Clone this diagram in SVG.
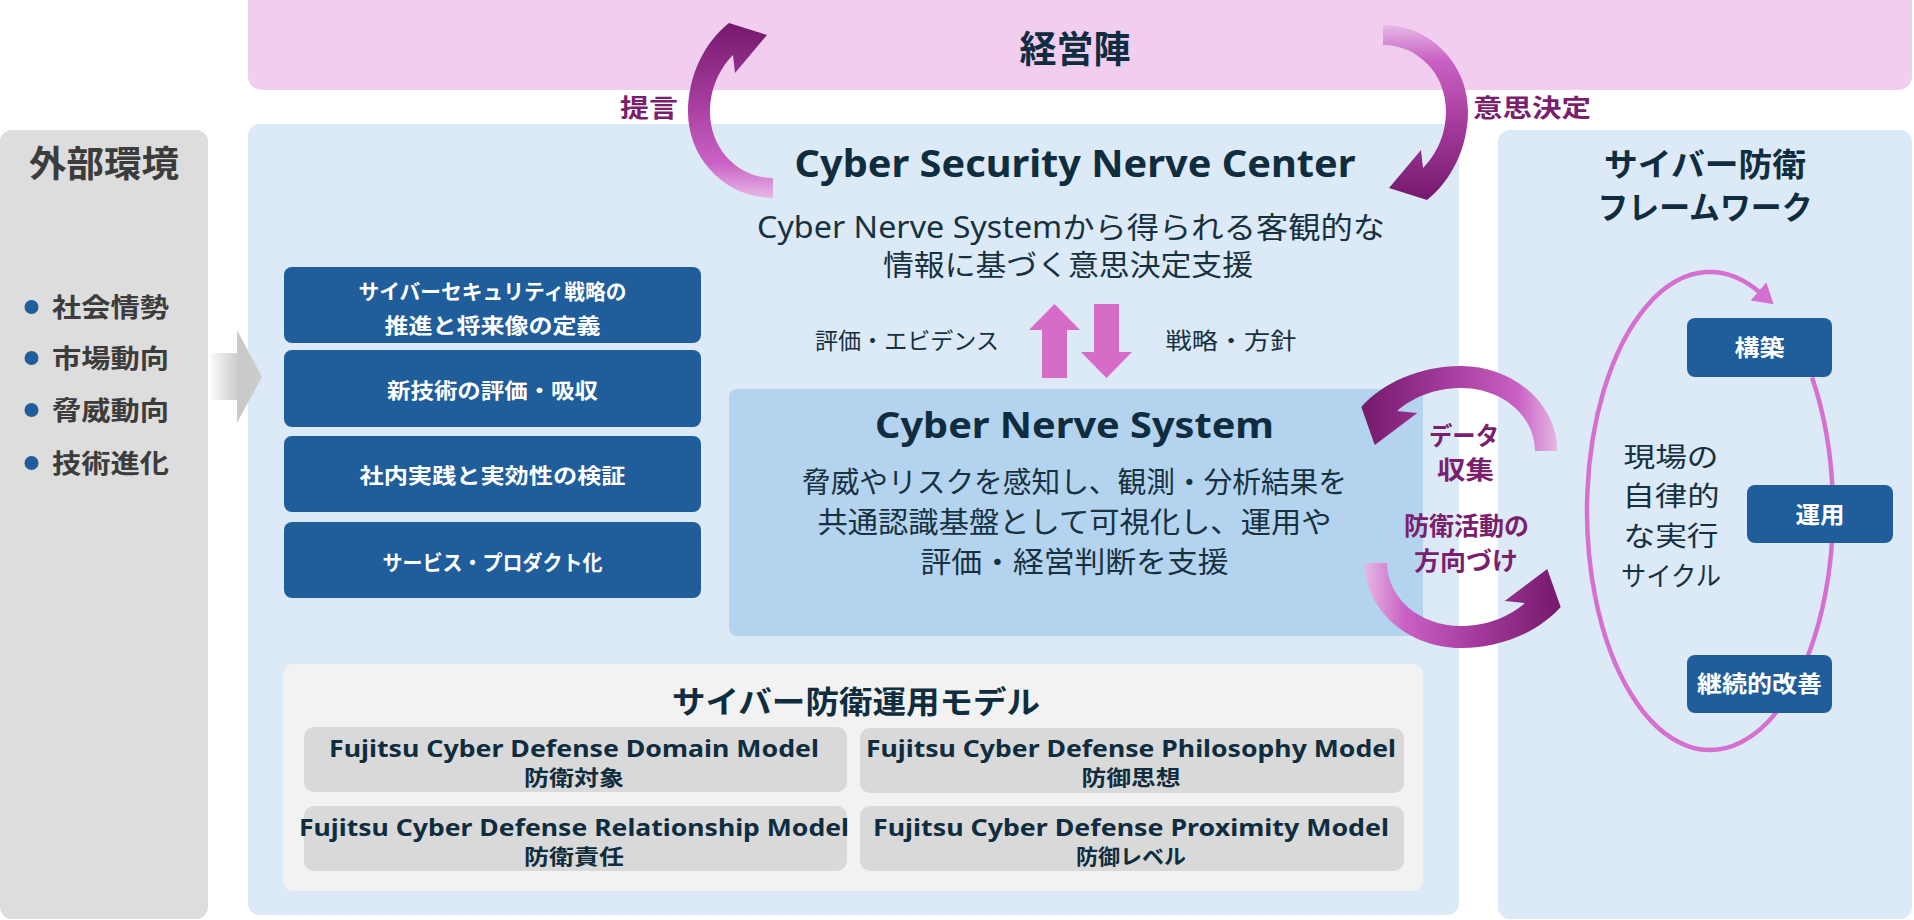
<svg xmlns="http://www.w3.org/2000/svg" width="1914" height="920" viewBox="0 0 1914 920">
<defs>
<style>
text{text-anchor:middle}
.st{text-anchor:start}
.en{font-family:"Noto Sans","Noto Sans CJK JP",sans-serif}
.jp{font-family:"Noto Sans CJK JP","Noto Sans",sans-serif}
.b{font-weight:700}
.navy{fill:#0f2d3e}
.dk{fill:#17313f}
.pur{fill:#7a1f6e}
.wh{fill:#ffffff}
.gr{fill:#3c3c3c}
.bluebox{fill:#1f5e9b}
.model{fill:#d9d9d9}
.panel{fill:#dce9f6}
.pinkarrow{fill:#d66bc8}
</style>
<linearGradient id="arcGrad" gradientUnits="userSpaceOnUse" x1="0" y1="-89" x2="0" y2="86">
<stop offset="0" stop-color="#74196c"/>
<stop offset="0.45" stop-color="#a63c9e"/>
<stop offset="0.8" stop-color="#c962c4"/>
<stop offset="1" stop-color="#e6b8e6"/>
</linearGradient>
<linearGradient id="chevGrad" x1="0" y1="0" x2="1" y2="0">
<stop offset="0" stop-color="#fafafa"/>
<stop offset="0.55" stop-color="#c9c9c9"/>
<stop offset="1" stop-color="#cdcdcd"/>
</linearGradient>
<path id="arcA" d="M -2,86 C -49,86 -87,47 -87,0 C -87,-37 -70,-70 -46,-89 L -8,-77 L -40,-39 L -42,-57 C -55,-44 -65,-24 -65,0 C -65,37 -37,66 -2,66 Z" fill="url(#arcGrad)"/>
<marker id="cycHead" markerUnits="userSpaceOnUse" viewBox="0 0 20 24" refX="2" refY="12" markerWidth="20" markerHeight="24" orient="auto"><path d="M0,0 L20,12 L0,24 Z" fill="#d670d0"/></marker>
</defs>
<rect width="1914" height="920" fill="#ffffff"/>

<g id="management">
<rect x="248" y="-14" width="1664" height="104" rx="14" fill="#f1cef0"/>
<text class="jp b navy" x="1075" y="63" font-size="37">経営陣</text>
</g>

<g id="external">
<rect x="0" y="130" width="208" height="789" rx="12" fill="#dddddd"/>
<text class="jp b gr" x="104" y="177" font-size="36" textLength="150" lengthAdjust="spacingAndGlyphs">外部環境</text>
<circle cx="31.5" cy="307" r="7" fill="#1f5e9b"/>
<circle cx="31.5" cy="358" r="7" fill="#1f5e9b"/>
<circle cx="31.5" cy="410" r="7" fill="#1f5e9b"/>
<circle cx="31.5" cy="463" r="7" fill="#1f5e9b"/>
<text class="jp b gr st" x="52" y="317" font-size="26" textLength="117" lengthAdjust="spacingAndGlyphs">社会情勢</text>
<text class="jp b gr st" x="52" y="368" font-size="26" textLength="117" lengthAdjust="spacingAndGlyphs">市場動向</text>
<text class="jp b gr st" x="52" y="420" font-size="26" textLength="117" lengthAdjust="spacingAndGlyphs">脅威動向</text>
<text class="jp b gr st" x="52" y="473" font-size="26" textLength="117" lengthAdjust="spacingAndGlyphs">技術進化</text>
</g>

<g id="csnc">
<rect x="248" y="124" width="1211" height="791" rx="12" class="panel"/>
<text class="en b navy" x="1075" y="177" font-size="37" textLength="561" lengthAdjust="spacingAndGlyphs">Cyber Security Nerve Center</text>
<text class="en dk" x="1071" y="238" font-size="30" textLength="628" lengthAdjust="spacingAndGlyphs">Cyber Nerve Systemから得られる客観的な</text>
<text class="jp dk" x="1068" y="276" font-size="29" textLength="370" lengthAdjust="spacingAndGlyphs">情報に基づく意思決定支援</text>
<text class="jp dk" x="907" y="349" font-size="23" textLength="184" lengthAdjust="spacingAndGlyphs">評価・エビデンス</text>
<text class="jp dk" x="1231" y="349" font-size="23" textLength="131" lengthAdjust="spacingAndGlyphs">戦略・方針</text>
<polygon class="pinkarrow" points="1054.5,304 1080,330 1067,330 1067,378 1042,378 1042,330 1029,330"/>
<polygon class="pinkarrow" points="1094,304 1119,304 1119,352 1132,352 1106.5,378 1081,352 1094,352"/>
</g>

<g id="input-arrow">
<polygon points="211,353 237,353 237,330 262,377 237,423 237,400 211,400" fill="url(#chevGrad)"/>
</g>

<g id="strategy">
<rect x="284" y="267" width="417" height="76" rx="8" class="bluebox"/>
<rect x="284" y="350" width="417" height="77" rx="8" class="bluebox"/>
<rect x="284" y="436" width="417" height="76" rx="8" class="bluebox"/>
<rect x="284" y="522" width="417" height="76" rx="8" class="bluebox"/>
<text class="jp b wh" x="492.5" y="299" font-size="21" textLength="268" lengthAdjust="spacingAndGlyphs">サイバーセキュリティ戦略の</text>
<text class="jp b wh" x="492.5" y="333" font-size="21" textLength="216" lengthAdjust="spacingAndGlyphs">推進と将来像の定義</text>
<text class="jp b wh" x="492.5" y="398" font-size="21" textLength="211" lengthAdjust="spacingAndGlyphs">新技術の評価・吸収</text>
<text class="jp b wh" x="492.5" y="483" font-size="21" textLength="266" lengthAdjust="spacingAndGlyphs">社内実践と実効性の検証</text>
<text class="jp b wh" x="492.5" y="570" font-size="21" textLength="220" lengthAdjust="spacingAndGlyphs">サービス・プロダクト化</text>
</g>

<g id="cns">
<rect x="729" y="389" width="694" height="247" rx="8" fill="#b4d3ef"/>
<text class="en b navy" x="1074.5" y="438" font-size="35" textLength="399" lengthAdjust="spacingAndGlyphs">Cyber Nerve System</text>
<text class="jp dk" x="1074.5" y="493" font-size="29" textLength="545" lengthAdjust="spacingAndGlyphs">脅威やリスクを感知し、観測・分析結果を</text>
<text class="jp dk" x="1074.5" y="533" font-size="29" textLength="514" lengthAdjust="spacingAndGlyphs">共通認識基盤として可視化し、運用や</text>
<text class="jp dk" x="1074.5" y="573" font-size="29" textLength="308" lengthAdjust="spacingAndGlyphs">評価・経営判断を支援</text>
</g>

<g id="model">
<rect x="283" y="664" width="1140" height="227" rx="10" fill="#f2f2f2"/>
<text class="jp b navy" x="856" y="713" font-size="31" textLength="368" lengthAdjust="spacingAndGlyphs">サイバー防衛運用モデル</text>
<rect x="304" y="727" width="543" height="65" rx="10" class="model"/>
<rect x="860" y="728" width="544" height="65" rx="10" class="model"/>
<rect x="304" y="806" width="543" height="65" rx="10" class="model"/>
<rect x="860" y="806" width="544" height="65" rx="10" class="model"/>
<text class="en b navy" x="574" y="757" font-size="24" textLength="490" lengthAdjust="spacingAndGlyphs">Fujitsu Cyber Defense Domain Model</text>
<text class="jp b navy" x="574" y="785" font-size="21" textLength="100" lengthAdjust="spacingAndGlyphs">防衛対象</text>
<text class="en b navy" x="1131" y="757" font-size="24" textLength="530" lengthAdjust="spacingAndGlyphs">Fujitsu Cyber Defense Philosophy Model</text>
<text class="jp b navy" x="1131" y="785" font-size="21" textLength="99" lengthAdjust="spacingAndGlyphs">防御思想</text>
<text class="en b navy" x="574" y="836" font-size="24" textLength="550" lengthAdjust="spacingAndGlyphs">Fujitsu Cyber Defense Relationship Model</text>
<text class="jp b navy" x="574" y="864" font-size="21" textLength="100" lengthAdjust="spacingAndGlyphs">防衛責任</text>
<text class="en b navy" x="1131" y="836" font-size="24" textLength="516" lengthAdjust="spacingAndGlyphs">Fujitsu Cyber Defense Proximity Model</text>
<text class="jp b navy" x="1131" y="864" font-size="21" textLength="110" lengthAdjust="spacingAndGlyphs">防御レベル</text>
</g>

<g id="framework">
<rect x="1498" y="130" width="414" height="789" rx="12" class="panel"/>
<text class="jp b navy" x="1705" y="176" font-size="32" textLength="202" lengthAdjust="spacingAndGlyphs">サイバー防衛</text>
<text class="jp b navy" x="1705" y="219" font-size="32" textLength="215" lengthAdjust="spacingAndGlyphs">フレームワーク</text>
<path d="M 1812,377.4 A 123 239 0 1 1 1760,292.6" fill="none" stroke="#d670d0" stroke-width="4.5" marker-end="url(#cycHead)"/>
<text class="jp dk" x="1671" y="467" font-size="27" textLength="95" lengthAdjust="spacingAndGlyphs">現場の</text>
<text class="jp dk" x="1671" y="506" font-size="27" textLength="97" lengthAdjust="spacingAndGlyphs">自律的</text>
<text class="jp dk" x="1671" y="546" font-size="27" textLength="95" lengthAdjust="spacingAndGlyphs">な実行</text>
<text class="jp dk" x="1671" y="586" font-size="27" textLength="100" lengthAdjust="spacingAndGlyphs">サイクル</text>
</g>
<g id="build">
<rect x="1687" y="318" width="145" height="59" rx="8" class="bluebox"/>
<text class="jp b wh" x="1759.5" y="355.5" font-size="23" textLength="50" lengthAdjust="spacingAndGlyphs">構築</text>
</g>
<g id="operate">
<rect x="1747" y="485" width="146" height="58" rx="8" class="bluebox"/>
<text class="jp b wh" x="1820" y="523" font-size="23" textLength="49" lengthAdjust="spacingAndGlyphs">運用</text>
</g>
<g id="improve">
<rect x="1687" y="655" width="145" height="58" rx="8" class="bluebox"/>
<text class="jp b wh" x="1759.5" y="692" font-size="23" textLength="125" lengthAdjust="spacingAndGlyphs">継続的改善</text>
</g>

<g id="connectors">
<use href="#arcA" transform="translate(775,112)"/>
<use href="#arcA" transform="translate(1381,111) rotate(180)"/>
<use href="#arcA" transform="matrix(0,1,1.12,0,1461,453)"/>
<use href="#arcA" transform="matrix(0,-1,-1.12,0,1461,561)"/>
<text class="jp b pur" x="649" y="117" font-size="25" textLength="58" lengthAdjust="spacingAndGlyphs">提言</text>
<text class="jp b pur" x="1532" y="117" font-size="25" textLength="118" lengthAdjust="spacingAndGlyphs">意思決定</text>
<text class="jp b pur" x="1464" y="445" font-size="25" textLength="70" lengthAdjust="spacingAndGlyphs">データ</text>
<text class="jp b pur" x="1465.5" y="479" font-size="25" textLength="57" lengthAdjust="spacingAndGlyphs">収集</text>
<text class="jp b pur" x="1466.5" y="535" font-size="25" textLength="125" lengthAdjust="spacingAndGlyphs">防衛活動の</text>
<text class="jp b pur" x="1466" y="570" font-size="25" textLength="104" lengthAdjust="spacingAndGlyphs">方向づけ</text>
</g>
</svg>
